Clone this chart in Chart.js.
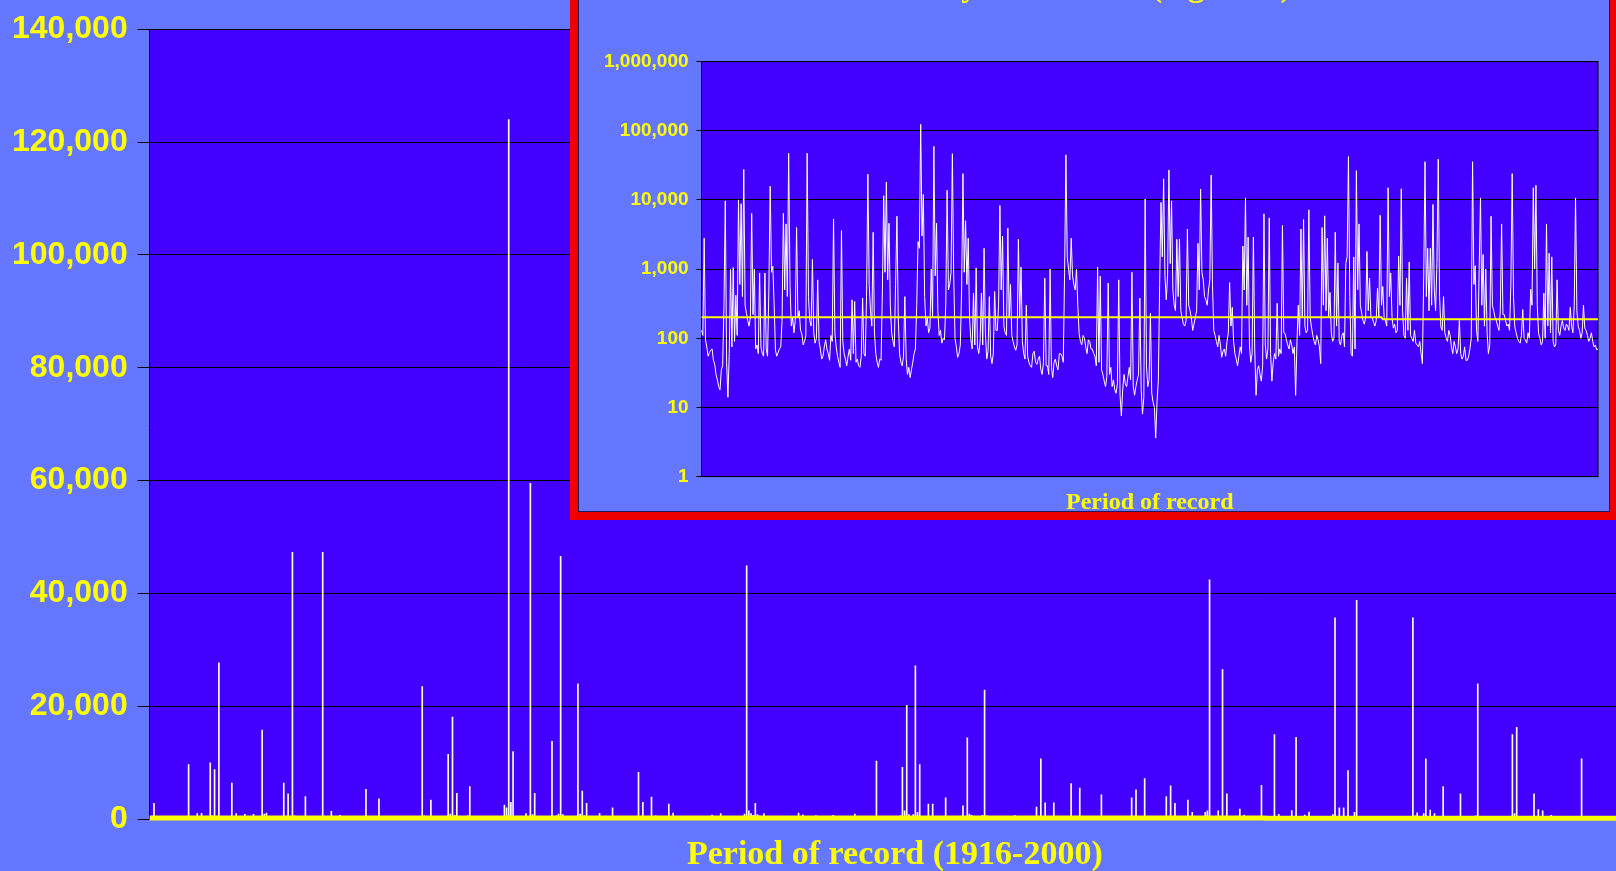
<!DOCTYPE html>
<html>
<head>
<meta charset="utf-8">
<script src="https://cdn.jsdelivr.net/npm/chart.js@4.4.1/dist/chart.umd.min.js"></script>
<style>
  html, body { margin: 0; padding: 0; background: #6677ff; overflow: hidden; width: 1616px; height: 871px; }
  #flow-chart { position: absolute; left: 0; top: 0; }
  #frame { position: absolute; left: 570px; top: -60px; width: 1048px; height: 580px; box-sizing: border-box; border: 8px solid #ee0000; }
  #panel { position: absolute; left: 578px; top: -52px; width: 1032px; height: 564px; box-sizing: border-box; border: 1px solid #1c1c5c; background: #6677ff; overflow: hidden; }
  #log-chart { position: absolute; left: 0; top: 9px; }
</style>
</head>
<body>
<canvas id="flow-chart" width="1640" height="876"></canvas>
<div id="frame"></div>
<div id="panel"><canvas id="log-chart" width="1030" height="559"></canvas></div>
<script>
// daily streamflow (cfs), 8 readings a year, 1916-2000
const dailyFlow = [
  130, 110, 2800, 95, 75, 55, 62, 68,
  70, 48, 42, 30, 25, 20, 18, 35,
  40, 300, 9700, 45, 14, 60, 1000, 75,
  1050, 90, 420, 110, 10000, 600, 8800, 400,
  27700, 300, 230, 180, 150, 200, 6400, 220,
  1000, 70, 80, 60, 880, 75, 60, 55,
  880, 70, 55, 500, 15800, 900, 1100, 300,
  67, 55, 62, 70, 75, 180, 6400, 500,
  4500, 400, 47300, 600, 150, 200, 120, 180,
  4000, 200, 250, 130, 115, 80, 90, 110,
  47300, 400, 180, 150, 1380, 120, 85, 100,
  700, 90, 70, 50, 55, 75, 95, 70,
  60, 48, 110, 90, 5300, 120, 75, 55,
  45, 38, 3600, 90, 60, 50, 40, 55,
  70, 48, 360, 60, 340, 45, 50, 40,
  38, 55, 380, 60, 55, 400, 23500, 600,
  250, 150, 3400, 120, 60, 45, 38, 50,
  48, 500, 11500, 900, 18100, 700, 4600, 300,
  120, 90, 75, 600, 5800, 200, 60, 45,
  40, 55, 400, 50, 30, 38, 27, 35,
  45, 60, 70, 300, 2500, 2000, 124000, 3000,
  12000, 400, 150, 200, 120, 140, 1000, 200,
  59500, 800, 4600, 250, 110, 130, 85, 100,
  95, 300, 13800, 500, 600, 900, 46600, 800,
  100, 75, 53, 60, 80, 500, 24000, 900,
  5000, 600, 2800, 200, 95, 70, 450, 80,
  1040, 75, 60, 90, 450, 80, 2000, 120,
  50, 65, 400, 55, 43, 60, 475, 130,
  130, 300, 8300, 500, 3000, 150, 120, 110,
  3900, 200, 600, 110, 90, 75, 67, 80,
  2700, 200, 1070, 90, 60, 50, 300, 55,
  45, 40, 38, 60, 65, 45, 42, 50,
  55, 35, 30, 45, 740, 40, 40, 30,
  1000, 38, 27, 45, 50, 40, 35, 60,
  60, 55, 45, 900, 44900, 1500, 1000, 700,
  2800, 800, 600, 500, 1000, 300, 117, 90,
  80, 110, 100, 75, 60, 95, 90, 70,
  70, 60, 55, 40, 1070, 45, 790, 35,
  30, 24, 20, 28, 630, 30, 38, 20,
  25, 18, 16, 22, 700, 15, 7.5, 18,
  30, 22, 20, 28, 38, 25, 900, 20,
  15, 20, 25, 30, 380, 18, 8, 14,
  10300, 40, 20, 25, 230, 16, 12, 10,
  3.6, 12, 25, 600, 9200, 1500, 20200, 800,
  360, 800, 27200, 1200, 9700, 500, 300, 250,
  2700, 400, 2700, 250, 200, 160, 150, 180,
  3800, 300, 250, 200, 130, 160, 200, 250,
  2360, 500, 14400, 900, 700, 400, 360, 300,
  500, 700, 22900, 600, 130, 110, 90, 75,
  110, 80, 53, 65, 70, 55, 90, 120,
  640, 150, 280, 90, 60, 50, 40, 55,
  75, 60, 2150, 500, 10700, 300, 2900, 80,
  45, 60, 2900, 70, 15, 35, 40, 30,
  24, 40, 6300, 80, 50, 70, 5500, 60,
  24, 45, 60, 50, 320, 55, 70, 60,
  4300, 120, 117, 95, 80, 70, 95, 80,
  60, 75, 15, 90, 300, 110, 3800, 200,
  5200, 150, 120, 130, 7200, 200, 145, 110,
  90, 80, 110, 95, 75, 43, 4000, 300,
  5900, 250, 2800, 200, 460, 120, 90, 100,
  3400, 150, 1230, 90, 80, 110, 120, 75,
  1200, 1500, 42400, 400, 60, 55, 1500, 70,
  26500, 500, 4500, 300, 230, 180, 160, 200,
  1800, 250, 740, 200, 200, 170, 150, 180,
  530, 200, 6000, 300, 560, 200, 180, 150,
  15000, 400, 880, 200, 140, 160, 120, 130,
  1540, 300, 14500, 250, 110, 100, 740, 130,
  1270, 110, 100, 90, 130, 85, 80, 75,
  90, 60, 43, 800, 35700, 400, 2000, 250,
  2000, 300, 8600, 500, 250, 1200, 38800, 400,
  145, 130, 400, 120, 100, 90, 130, 110,
  75, 60, 90, 75, 60, 70, 180, 60,
  50, 55, 75, 48, 48, 55, 70, 100,
  35700, 600, 1120, 130, 90, 1000, 10700, 300,
  1630, 150, 1000, 120, 60, 80, 5800, 300,
  250, 200, 180, 150, 130, 250, 4500, 220,
  220, 180, 150, 160, 130, 600, 24000, 400,
  145, 120, 100, 90, 85, 110, 260, 100,
  95, 85, 120, 100, 510, 300, 15000, 1000,
  16300, 300, 117, 100, 80, 90, 450, 100,
  4500, 150, 1700, 120, 1500, 90, 75, 80,
  700, 130, 110, 150, 180, 140, 130, 160,
  150, 130, 280, 150, 120, 300, 10700, 250,
  150, 130, 100, 120, 300, 140, 130, 110,
  90, 100, 120, 90, 75, 80, 68, 70,
];
const firstYear = 1916;
const samplesPerYear = 8;
// the big chart's time axis runs a little past the last reading
const mainAxisExtra = 10;

// mean flow before / after the change, and the reading where it changes
const meanFlow = [202, 188];
const meanBreak = 516;

const logTicks = [1, 10, 100, 1000, 10000, 100000, 1000000];

const yellow = '#ffff00';
const sampleLabels = dailyFlow.map((_, i) => (firstYear + i / samplesPerYear).toFixed(3));
const mainLabels = Array.from({ length: dailyFlow.length + mainAxisExtra },
    (_, i) => (firstYear + i / samplesPerYear).toFixed(3));
const meanLine = dailyFlow.map((_, i) => i < meanBreak ? meanFlow[0] : meanFlow[1]);

// fills the plot area, optionally outlines it
const plotArea = {
    id: 'plotArea',
    beforeDraw(chart, args, opts) {
        const { ctx, chartArea: a } = chart;
        ctx.save();
        ctx.fillStyle = opts.color;
        ctx.fillRect(a.left, a.top, a.right - a.left, a.bottom - a.top);
        ctx.restore();
    },
    beforeDatasetsDraw(chart, args, opts) {
        if (!opts.border) return;
        const { ctx, chartArea: a } = chart;
        ctx.save();
        ctx.strokeStyle = opts.border;
        ctx.lineWidth = 1;
        ctx.strokeRect(a.left, a.top, a.right - a.left, a.bottom - a.top);
        ctx.restore();
    },
};

new Chart(document.getElementById('flow-chart'), {
    type: 'bar',
    data: {
        labels: mainLabels,
        datasets: [
            {
                type: 'line',
                data: meanLine,
                borderColor: yellow,
                borderWidth: 5,
                pointRadius: 0,
                clip: false,
                order: 0,
            },
            {
                data: dailyFlow,
                backgroundColor: '#ffffff',
                barThickness: 1,
                order: 1,
            },
        ],
    },
    options: {
        responsive: false,
        animation: false,
        layout: { padding: { left: 2, top: 27, right: 0, bottom: 0 } },
        plugins: {
            legend: { display: false },
            tooltip: { enabled: false },
            plotArea: { color: '#4400ff' },
        },
        scales: {
            x: {
                offset: false,
                grid: { display: false, drawTicks: false },
                border: { display: false },
                ticks: { display: false },
                title: {
                    display: true,
                    text: 'Period of record (1916-2000)',
                    color: yellow,
                    font: { family: 'Liberation Serif', size: 34, weight: 'bold' },
                    padding: { top: 16, bottom: 0 },
                },
            },
            y: {
                min: 0,
                max: 140000,
                ticks: {
                    stepSize: 20000,
                    color: yellow,
                    padding: 10,
                    font: { family: 'Liberation Sans', size: 32, weight: 'bold' },
                    callback: v => v.toLocaleString('en-US'),
                },
                grid: { color: '#000000', lineWidth: 1, tickLength: 12, tickColor: '#000000' },
                border: { color: '#000000', width: 1 },
            },
        },
    },
    plugins: [plotArea],
});

new Chart(document.getElementById('log-chart'), {
    type: 'line',
    data: {
        labels: sampleLabels,
        datasets: [
            {
                data: meanLine,
                borderColor: yellow,
                borderWidth: 2,
                pointRadius: 0,
                order: 0,
            },
            {
                data: dailyFlow,
                borderColor: '#ffffff',
                borderWidth: 1,
                pointRadius: 0,
                order: 1,
            },
        ],
    },
    options: {
        responsive: false,
        animation: false,
        layout: { padding: { left: 17, right: 11, top: 0, bottom: 0 } },
        plugins: {
            legend: { display: false },
            tooltip: { enabled: false },
            title: {
                display: true,
                text: 'Daily streamflow (log scale)',
                color: yellow,
                font: { family: 'Liberation Serif', size: 33, weight: 'bold' },
                padding: { top: 10, bottom: 54 },
            },
            plotArea: { color: '#4400ff', border: '#000000' },
        },
        scales: {
            x: {
                offset: false,
                grid: { display: false, drawTicks: false },
                border: { display: false },
                ticks: { display: false },
                title: {
                    display: true,
                    text: 'Period of record',
                    color: yellow,
                    font: { family: 'Liberation Serif', size: 24, weight: 'bold' },
                    padding: { top: 11.6, bottom: 0 },
                },
            },
            y: {
                type: 'logarithmic',
                min: 1,
                max: 1000000,
                afterBuildTicks: scale => {
                    scale.ticks = logTicks.map(v => ({ value: v }));
                },
                ticks: {
                    color: yellow,
                    padding: 8,
                    font: { family: 'Liberation Sans', size: 19, weight: 'bold' },
                    callback: v => Number(v).toLocaleString('en-US'),
                },
                grid: { color: '#000000', lineWidth: 1, tickLength: 5, tickColor: '#000000' },
                border: { color: '#000000', width: 1 },
            },
        },
    },
    plugins: [plotArea],
});
</script>
</body>
</html>
